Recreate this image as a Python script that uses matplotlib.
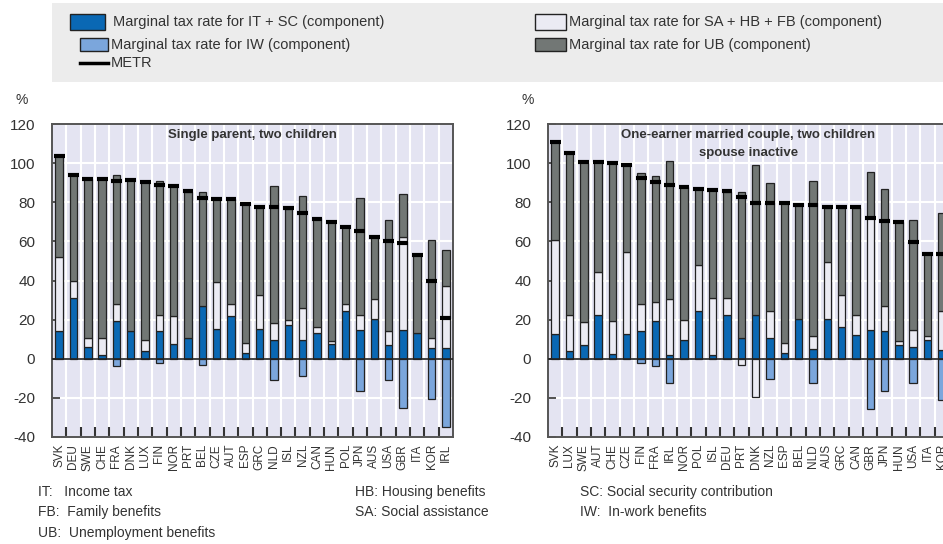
import numpy as np
import matplotlib
matplotlib.use("Agg")
import matplotlib.pyplot as plt
from matplotlib.patches import Rectangle
from matplotlib.lines import Line2D

plt.rcParams['font.family'] = ['Liberation Sans', 'DejaVu Sans']
plt.rcParams['axes.unicode_minus'] = False

# single parent, two children
countries_sp = ["SVK", "DEU", "SWE", "CHE", "FRA", "DNK", "LUX", "FIN", "NOR", "PRT",
                "BEL", "CZE", "AUT", "ESP", "GRC", "NLD", "ISL", "NZL", "CAN", "HUN",
                "POL", "JPN", "AUS", "USA", "GBR", "ITA", "KOR", "IRL"]
it_sc_sp = [14, 31, 6, 2, 19.5, 14, 4, 14, 7.4, 10.5, 27, 15, 21.7, 3, 15, 9.6, 17.4, 9.6,
            13, 7.4, 24.6, 14.8, 20.5, 7, 14.8, 13, 5.3, 5.3]
sa_hb_fb_sp = [38, 9, 4.5, 8.5, 8.5, 0, 5.5, 8.5, 14.3, 0, 0, 24, 6.3, 5.3, 17.4, 8.7, 2.6,
               16.4, 3, 1.7, 3.4, 7.8, 9.8, 7, 47.4, 0, 5.2, 31.9]
ub_sp = [51.5, 54, 81.5, 81.5, 66, 77.5, 81.1, 68.5, 66.7, 74.9, 58.4, 42.5, 53.5, 70.7,
         44.9, 70.1, 56.8, 57.2, 55.7, 60.9, 39.4, 59.4, 31.9, 57.1, 22, 40.2, 50.3, 18.4]
iw_sp = [0, 0, 0, 0, -3.6, 0, 0, -2, 0, 0, -3.3, 0, 0, 0, 0, -11, 0, -8.8, 0, 0, 0, -16.5,
         0, -10.9, -25.3, 0, -20.7, -35.1]
metr_sp = [103.5, 94, 92, 92, 91, 91.5, 90.5, 89, 88.5, 85.5, 82, 81.5, 81.5, 79, 77.5,
           77.5, 77, 74.5, 71.5, 70, 67.5, 65.5, 62, 60, 59, 53, 40, 21]

# one-earner married couple, two children, spouse inactive
countries_oe = ["SVK", "LUX", "SWE", "AUT", "CHE", "CZE", "FIN", "FRA", "IRL", "NOR",
                "POL", "ISL", "DEU", "PRT", "DNK", "NZL", "ESP", "BEL", "NLD", "AUS",
                "GRC", "CAN", "GBR", "JPN", "HUN", "USA", "ITA", "KOR"]
it_sc_oe = [12.6, 4, 7, 22.6, 2.2, 12.6, 14, 19.5, 2, 9.6, 24.6, 2, 22.6, 10.5, 22.6, 10.5,
            2.8, 20.5, 5, 20.5, 16, 11.9, 14.8, 14, 7, 6.2, 9.6, 4.5]
sa_hb_fb_oe = [47.9, 18.6, 12, 22, 17.3, 41.8, 14, 9.5, 28.3, 10.4, 23.4, 28.8, 8.2, -3.3,
               -19.6, 14.1, 5.5, 0, 6.4, 29.1, 16.4, 10.7, 57.2, 12.9, 2.1, 8.6, 1.8, 19.8]
ub_oe = [50.8, 82.4, 81.4, 55.8, 80.5, 44.8, 67, 64.5, 70.7, 68, 39.2, 55.8, 54.6, 74.9,
         76.6, 65.1, 71.1, 58.1, 79.6, 27.7, 44.9, 54.7, 23.3, 59.7, 60.9, 56.3, 42.2, 50.3]
iw_oe = [0, 0, 0, 0, 0, 0, -2.4, -3.6, -12.2, 0, 0, 0, 0, 0, 0, -10.2, 0, 0, -12.2, 0, 0,
         0, -25.7, -16.7, 0, -12.2, 0, -21]
metr_oe = [111, 105, 100.5, 100.5, 100, 99, 92.5, 90.5, 89, 88, 87, 86.5, 85.5, 82.5, 79.5,
           79.5, 79.5, 78.5, 78.5, 77.5, 77.5, 77.5, 72, 70.5, 70, 59.5, 53.5, 53.5]

c_blue = "#0a68b4"
c_lblue = "#7ba6dc"
c_white = "#ebebf3"
c_gray = "#727775"
c_bg = "#e4e4f2"
edge = "#222222"

W, H = 943, 544
fig = plt.figure(figsize=(W / 100, H / 100), dpi=100)


def fx(x):
    return x / W


def fy(y):
    return 1 - y / H


def panel(left_px, countries, it_sc, sa, ub, iw, metr, title):
    ax = fig.add_axes([fx(left_px), fy(437), 401 / W, (437 - 124) / H])
    ax.set_facecolor(c_bg)
    n = len(countries)
    x = np.arange(n)
    it_sc = np.array(it_sc)
    sa = np.array(sa)
    ub = np.array(ub)
    iw = np.array(iw)
    bw = 0.52
    kw = dict(width=bw, edgecolor=edge, linewidth=0.9, zorder=3)
    ax.bar(x, it_sc, color=c_blue, **kw)
    sa_pos = np.where(sa > 0, sa, 0)
    sa_neg = np.where(sa < 0, sa, 0)
    m = sa_pos > 0
    ax.bar(x[m], sa_pos[m], bottom=it_sc[m], color=c_white, **kw)
    m = sa_neg < 0
    ax.bar(x[m], sa_neg[m], color=c_white, **kw)
    ax.bar(x, ub, bottom=it_sc + sa_pos, color=c_gray, **kw)
    m = iw < 0
    ax.bar(x[m], iw[m], color=c_lblue, **kw)
    ax.hlines(metr, x - 0.38, x + 0.38, color="black", linewidth=3, zorder=4)
    ax.axhline(0, color=edge, linewidth=1.2, zorder=3.5)

    ax.set_xlim(-0.5, n - 0.5)
    ax.set_ylim(-40, 120)
    ax.set_yticks(np.arange(-40, 121, 20))
    ax.set_xticks(np.arange(0.5, n - 0.5, 1))
    ax.set_xticklabels([])
    ax.set_xticks(x, minor=True)
    ax.set_xticklabels(countries, minor=True, rotation=90, fontsize=8.5, color="#333333")
    ax.tick_params(axis="x", which="major", direction="in", length=7, width=1.5,
                   color="#333333")
    ax.tick_params(axis="x", which="minor", length=0, pad=5)
    ax.tick_params(axis="y", direction="in", length=6, width=1.2, color="#333333",
                   labelsize=11, pad=12, labelcolor="#333333")
    ax.grid(True, which="major", color="white", linewidth=1.5, zorder=0)
    ax.set_axisbelow(True)
    for s in ax.spines.values():
        s.set_color("#555555")
        s.set_linewidth(1.4)
    ax.text(0.5, 0.985, title, transform=ax.transAxes, ha="center", va="top",
            fontsize=9.5, fontweight="bold", color="#333333", linespacing=1.7, zorder=5)
    return ax


panel(52, countries_sp, it_sc_sp, sa_hb_fb_sp, ub_sp, iw_sp, metr_sp,
      "Single parent, two children")
panel(548, countries_oe, it_sc_oe, sa_hb_fb_oe, ub_oe, iw_oe, metr_oe,
      "One-earner married couple, two children\nspouse inactive")

# legend box
fig.add_artist(Rectangle((fx(52), fy(82)), (W - 52) / W, 79 / H, transform=fig.transFigure,
                         facecolor="#ececec", edgecolor="none", zorder=0))
items = [
    (70, 14, 35, 16, c_blue, "Marginal tax rate for IT + SC (component)", 113, 22),
    (80, 38, 28, 13, c_lblue, "Marginal tax rate for IW (component)", 111, 45),
    (535, 14, 31, 16, c_white, "Marginal tax rate for SA + HB + FB (component)", 569, 22),
    (535, 38, 31, 13, c_gray, "Marginal tax rate for UB (component)", 569, 45),
]
for x0, y0, w, h, col, lab, tx, ty in items:
    fig.add_artist(Rectangle((fx(x0), fy(y0 + h)), w / W, h / H, transform=fig.transFigure,
                             facecolor=col, edgecolor=edge, linewidth=1.0))
    fig.text(fx(tx), fy(ty), lab, ha="left", va="center", fontsize=10.5, color="#333333")
fig.add_artist(Line2D([fx(80), fx(108)], [fy(63), fy(63)], transform=fig.transFigure,
                      color="black", linewidth=2.5))
fig.text(fx(111), fy(63), "METR", ha="left", va="center", fontsize=10.5, color="#333333")

fig.text(fx(16), fy(100), "%", fontsize=10, va="center", color="#333333")
fig.text(fx(522), fy(100), "%", fontsize=10, va="center", color="#333333")

# abbreviations
notes = [
    (38, 492, "IT:   Income tax"),
    (38, 512, "FB:  Family benefits"),
    (38, 533, "UB:  Unemployment benefits"),
    (355, 492, "HB: Housing benefits"),
    (355, 512, "SA: Social assistance"),
    (580, 492, "SC: Social security contribution"),
    (580, 512, "IW:  In-work benefits"),
]
for x0, y0, s in notes:
    fig.text(fx(x0), fy(y0), s, ha="left", va="center", fontsize=10, color="#333333")

fig.savefig("out.png", dpi=100)
